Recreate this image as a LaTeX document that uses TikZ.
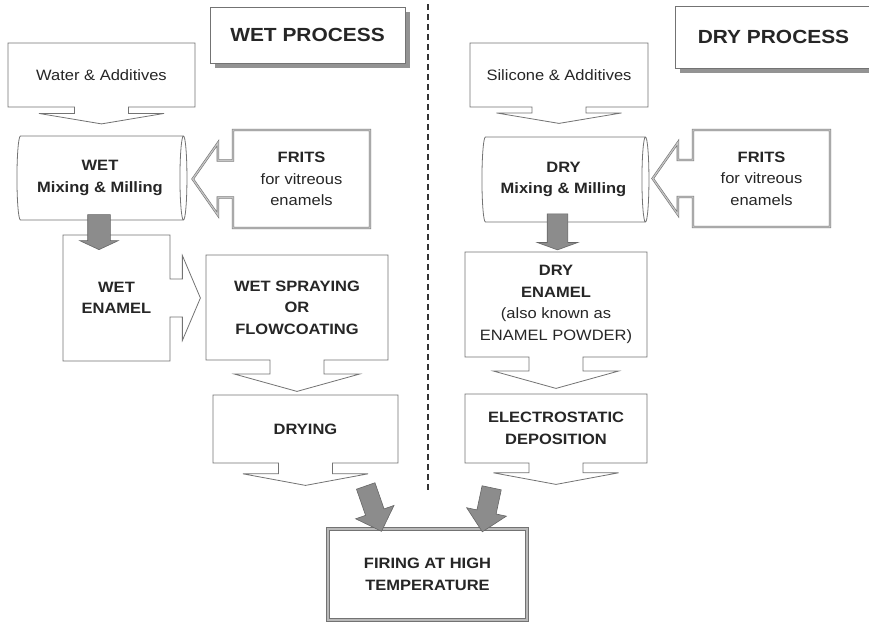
\documentclass[tikz,border=0pt]{standalone}
\usepackage{fontspec}
\setmainfont[FakeStretch=1.1]{Liberation Sans}
\usetikzlibrary{positioning,shapes.arrows,shapes.geometric,shadows}
\definecolor{linegray}{gray}{0.45}
\definecolor{fatgray}{gray}{0.55}
\tikzset{
    blk/.style={rectangle, draw=linegray, fill=white, line width=0.8pt, align=center, inner sep=0,
        text=black!85, font=\fontsize{15}{21.5}\selectfont\bfseries},
    ttl/.style={blk, font=\fontsize{19}{22}\selectfont\bfseries,
        drop shadow={shadow xshift=5pt, shadow yshift=-5pt, fill=gray!85, opacity=1}},
    cbox/.style={blk, arrow box, arrow box north arrow=none, arrow box south arrow=none,
        arrow box east arrow=none, arrow box west arrow=none},
    cdown/.style 2 args={cbox, arrow box south arrow=#1, arrow box tip angle=#2,
        arrow box shaft width=54pt, arrow box head extend=35.5pt},
    cright/.style={cbox, arrow box east arrow=30pt, arrow box tip angle=134,
        arrow box shaft width=38pt, arrow box head extend=23.5pt},
    cleft/.style={cbox, arrow box west arrow=40pt, arrow box tip angle=110,
        arrow box shaft width=37pt, arrow box head extend=17.5pt,
        line width=0.6pt, double=gray!45, double distance=1.2pt},
    mill/.style={blk, cylinder, aspect=0.2},
    fat/.style={single arrow, draw=black!60, fill=fatgray, inner xsep=0, line width=0.6pt},
    fire/.style={blk, draw=black!55, double=gray!55, double distance=2.5pt, line width=0.8pt},
    sep/.style={draw=black!80, line width=1.3pt, dash pattern=on 6pt off 4pt},
    reg/.style={font=\fontsize{15}{21.5}\selectfont\mdseries},
  }

\begin{document}
\begin{tikzpicture}[x=1pt, y=-1pt]
  \useasboundingbox (0,0) rectangle (869,621);

  \coordinate (septop) at (428,4);
  \coordinate (sepbot) at (428,492);
  \draw[sep] (septop) -- (sepbot);

  % wet side
  \node (wettitle) [ttl, minimum width=195pt, minimum height=56pt] at (307.5,35) {WET PROCESS};
  \node (water) [cdown={16.5pt}{161}, reg, minimum width=187pt, minimum height=64pt] at (101.5,75) {Water \& Additives};
  \node (wetmix) [mill, minimum height=170pt, minimum width=84pt] at (100,178) {WET\\Mixing \& Milling};
  \node (wetfrits) [cleft, minimum width=137pt, minimum height=98pt] at (301.5,179)
      {FRITS\\\mdseries for vitreous\\\mdseries enamels};
  \node (wetenamel) [cright, minimum width=107pt, minimum height=126pt] at (116.5,298) {WET\\ENAMEL};
  \node (wetspray) [cdown={31pt}{149}, minimum width=182pt, minimum height=105pt] at (297,307.5)
      {WET SPRAYING\\OR\\FLOWCOATING};
  \node (drying) [cdown={22pt}{159}, minimum width=185pt, minimum height=68pt] at (305.5,429) {DRYING};
  \node (wetdown) [fat, rotate=-90, minimum height=35pt, minimum width=38pt, inner ysep=11pt,
      single arrow head extend=8pt, single arrow tip angle=130] at (99,229.5) {};

  % dry side
  \node (drytitle) [ttl, minimum width=197pt, minimum height=62pt] at (773.5,37) {DRY PROCESS};
  \node (silicone) [cdown={16pt}{161}, reg, minimum width=178pt, minimum height=64pt] at (559,75) {Silicone \& Additives};
  \node (drymix) [mill, minimum height=167pt, minimum width=85pt] at (563.5,179.5) {DRY\\Mixing \& Milling};
  \node (dryfrits) [cleft, minimum width=137pt, minimum height=97pt] at (761.5,178.5)
      {FRITS\\\mdseries for vitreous\\\mdseries enamels};
  \node (dryenamel) [cdown={31pt}{149}, minimum width=182pt, minimum height=105pt] at (556,304.5)
      {DRY\\ENAMEL\\\mdseries (also known as\\\mdseries ENAMEL POWDER)};
  \node (electro) [cdown={21pt}{159}, minimum width=182pt, minimum height=69pt] at (556,428.5)
      {ELECTROSTATIC\\DEPOSITION};
  \node (drydown) [fat, rotate=-90, minimum height=36pt, minimum width=40pt, inner ysep=10pt,
      single arrow head extend=10pt, single arrow tip angle=140] at (557.5,230) {};

  % firing
  \node (firing) [fire, minimum width=199pt, minimum height=91pt] at (427.5,574.5) {FIRING AT HIGH\\TEMPERATURE};
  \node (wetfire) [fat, rotate=-70.8, minimum height=48pt, minimum width=40pt, inner ysep=9.5pt,
      single arrow head extend=10.5pt] at (372,504) {};
  \node (dryfire) [fat, rotate=-102, minimum height=45pt, minimum width=40pt, inner ysep=9.5pt,
      single arrow head extend=10.5pt] at (488,505) {};
\end{tikzpicture}
\end{document}
